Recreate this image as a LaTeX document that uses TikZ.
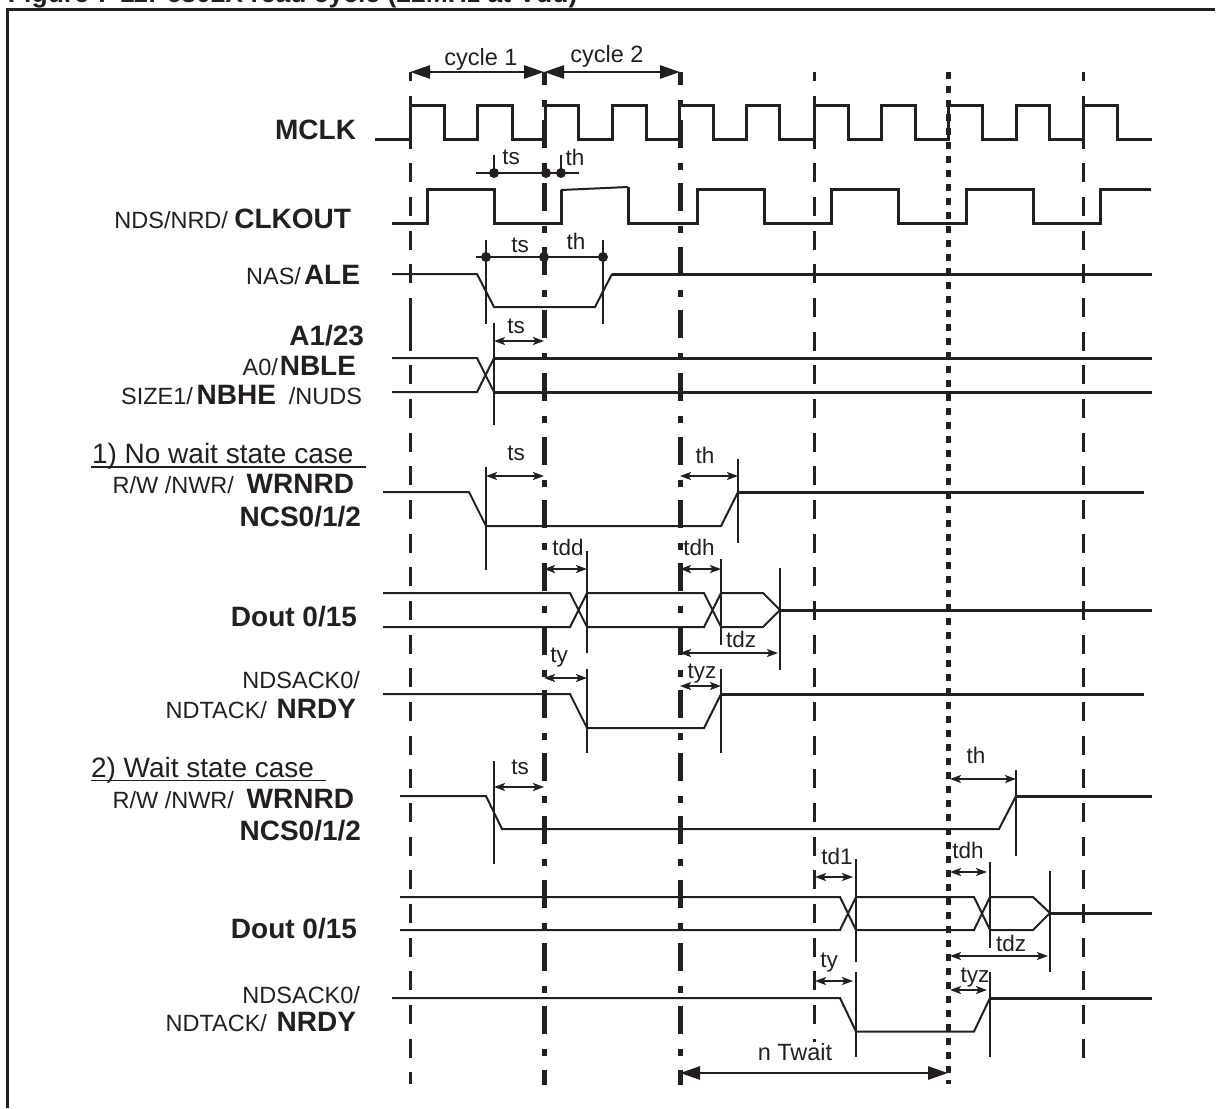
\documentclass[tikz,border=0pt]{standalone}
\usepackage{fontspec}
\setmainfont{Liberation Sans}
\usetikzlibrary{arrows.meta}
\definecolor{ink}{HTML}{231F20}
\newcommand{\rg}{\fontsize{23.5}{23.5}\selectfont}
\newcommand{\bd}{\fontsize{28}{28}\selectfont\bfseries}
\newcommand{\hd}{\fontsize{28}{28}\selectfont}
\newcommand{\tm}{\fontsize{22.5}{22.5}\selectfont}
\newcommand{\cy}{\fontsize{23.5}{23.5}\selectfont}
\tikzset{
  every node/.style={inner sep=0pt,outer sep=0pt,text=ink},
  frameline/.style={line width=3pt,draw=ink},
  dashline/.style={line width=3pt,draw=ink,dash pattern=on 19pt off 14.67pt,dash phase=9.7pt},
  dotline/.style={line width=5pt,draw=ink,dash pattern=on 7pt off 7pt},
  chainline/.style={line width=5pt,draw=ink,dash pattern=on 28pt off 15pt on 7pt off 13.3pt,dash phase=15.2pt},
  thinsig/.style={line width=2pt,draw=ink,line join=miter},
  thicksig/.style={line width=3pt,draw=ink,line join=miter},
  clocksig/.style={line width=3pt,draw=ink,line join=miter},
  tickline/.style={line width=1.7pt,draw=ink},
  rule/.style={line width=1.5pt,draw=ink},
  dimarrow/.style={line width=1.6pt,draw=ink,{Stealth[length=11pt,width=8pt,inset=2.5pt]}-{Stealth[length=11pt,width=8pt,inset=2.5pt]}},
  bigarrow/.style={line width=2.6pt,draw=ink,{Triangle[length=20pt,width=13pt]}-{Triangle[length=20pt,width=13pt]}},
  dot/.style={fill=ink,circle,minimum size=10pt}
}
\begin{document}
\begin{tikzpicture}[x=1pt,y=-1pt]
\useasboundingbox (0,0) rectangle (1225,1108);
% title and frame
\node[anchor=base west] (title) at (8,3) {\fontsize{26.5}{26.5}\selectfont\bfseries Figure 7-11: 6802X read cycle (22MHz at Vdd)};
\draw[frameline] (7.5,1108) -- (7.5,10) -- (1215,10);
% vertical reference lines
\draw[dashline] (410,72) -- (410,1084);
\draw[line width=3pt,draw=ink] (410,316) -- (410,335);
\draw[chainline] (544,72) -- (544,1085);
\draw[chainline] (680,72) -- (680,1085);
\draw[dashline] (814.5,72) -- (814.5,1042);
\draw[dotline] (948,72) -- (948,1084);
\draw[dashline] (1083,72) -- (1083,1067);
% cycle arrows
\coordinate (c1) at (410,72); \coordinate (c2) at (544,72); \coordinate (c3) at (680,72);
\draw[bigarrow] (c1) -- (c2);
\draw[bigarrow] (c2) -- (c3);
\node[anchor=base] (cyc1) at (481,65) {\cy cycle 1};
\node[anchor=base] (cyc2) at (607,63) {\cy cycle 2};
% MCLK
\draw[clocksig] (375,139) -- (410,139) -- (410,105) -- (444,105) -- (444,139) -- (477,139) -- (477,105) -- (512,105) -- (512,139) -- (545,139) -- (545,105) -- (578,105) -- (578,139) -- (612,139) -- (612,105) -- (646,105) -- (646,139) -- (679,139) -- (679,105) -- (713,105) -- (713,139) -- (746,139) -- (746,105) -- (779,105) -- (779,139) -- (814,139) -- (814,105) -- (848,105) -- (848,139) -- (881,139) -- (881,105) -- (915,105) -- (915,139) -- (948,139) -- (948,105) -- (982,105) -- (982,139) -- (1016,139) -- (1016,105) -- (1049,105) -- (1049,139) -- (1083,139) -- (1083,105) -- (1117,105) -- (1117,139) -- (1152,139);
% CLKOUT
\draw[clocksig] (392,223) -- (427,223) -- (427,189) -- (494,189) -- (494,223) -- (561,223) -- (561,190);
\draw[thinsig] (561,190) -- (628,187);
\draw[clocksig] (628,187) -- (628,223) -- (697,223) -- (697,189) -- (764,189) -- (764,223) -- (831,223) -- (831,189) -- (898,189) -- (898,223) -- (966,223) -- (966,189) -- (1033,189) -- (1033,223) -- (1100,223) -- (1100,189) -- (1151,189);
\draw[rule] (476,173) -- (579,173);
\draw[tickline] (494,155) -- (494,173);
\draw[tickline] (561,155) -- (561,173);
\node[dot] (d1) at (494,173) {};
\node[dot] (d2) at (546,173) {};
\node[dot] (d3) at (561,173) {};
\node[anchor=base] (ts1) at (511,164) {\tm ts};
\node[anchor=base] (th1) at (575,165) {\tm th};
% ALE
\draw[thinsig] (392,274) -- (477,274) -- (494,307) -- (595,307) -- (612,274);
\draw[thicksig] (612,274) -- (1152,274);
\draw[rule] (476,257) -- (603,257);
\draw[tickline] (486,240) -- (486,324);
\draw[tickline] (603,240) -- (603,324);
\node[dot] (d4) at (486,257) {};
\node[dot] (d5) at (544,257) {};
\node[dot] (d6) at (603,257) {};
\node[anchor=base] (ts2) at (520,252) {\tm ts};
\node[anchor=base] (th2) at (576,249) {\tm th};
% address
\draw[thinsig] (392,358) -- (477,358) -- (494,392);
\draw[thinsig] (392,392) -- (477,392) -- (494,358);
\draw[thicksig] (494,358) -- (1152,358);
\draw[thicksig] (494,392) -- (1152,392);
\draw[tickline] (494,323) -- (494,425);
\coordinate (a1) at (494,341); \coordinate (a2) at (544,341);
\draw[dimarrow] (a1) -- (a2);
\node[anchor=base] (ts3) at (516,333) {\tm ts};
% case 1 WRNRD
\draw[thinsig] (383,492) -- (469,492) -- (486,526) -- (721,526) -- (738,492);
\draw[thicksig] (738,492) -- (1144,492);
\draw[tickline] (486,467) -- (486,570);
\draw[tickline] (738,459) -- (738,543);
\coordinate (b1) at (486,476); \coordinate (b2) at (544,476); \coordinate (b3) at (680,476); \coordinate (b4) at (738,476);
\draw[dimarrow] (b1) -- (b2);
\draw[dimarrow] (b3) -- (b4);
\node[anchor=base] (ts4) at (516,460) {\tm ts};
\node[anchor=base] (th4) at (705,463) {\tm th};
% case 1 Dout
\draw[thinsig] (383,593) -- (570,593) -- (587,627) -- (704,627) -- (721,593) -- (763,593) -- (780,610) -- (763,627) -- (721,627) -- (704,593) -- (587,593) -- (570,627) -- (383,627);
\draw[thicksig] (780,610) -- (1152,610);
\draw[tickline] (587,551) -- (587,653);
\draw[tickline] (721,559) -- (721,645);
\draw[tickline] (780,568) -- (780,670);
\coordinate (e1) at (544,569); \coordinate (e2) at (587,569); \coordinate (e3) at (680,569); \coordinate (e4) at (721,569); \coordinate (e5) at (680,653); \coordinate (e6) at (778,653);
\draw[dimarrow] (e1) -- (e2);
\draw[dimarrow] (e3) -- (e4);
\draw[dimarrow] (e5) -- (e6);
\node[anchor=base] (tdd1) at (568,555) {\tm tdd};
\node[anchor=base] (tdh1) at (699,555) {\tm tdh};
\node[anchor=base] (tdz1) at (741,647) {\tm tdz};
% case 1 NRDY
\draw[thinsig] (383,694) -- (570,694) -- (587,728) -- (704,728) -- (721,694);
\draw[thicksig] (721,694) -- (1144,694);
\draw[tickline] (587,669) -- (587,753);
\draw[tickline] (721,669) -- (721,753);
\coordinate (f1) at (544,678); \coordinate (f2) at (587,678); \coordinate (f3) at (680,686); \coordinate (f4) at (721,686);
\draw[dimarrow] (f1) -- (f2);
\draw[dimarrow] (f3) -- (f4);
\node[anchor=base] (ty1) at (559,662) {\tm ty};
\node[anchor=base] (tyz1) at (702,678) {\tm tyz};
% case 2 WRNRD
\draw[thinsig] (400,796) -- (486,796) -- (502,829) -- (999,829) -- (1016,796);
\draw[thicksig] (1016,796) -- (1152,796);
\draw[tickline] (494,761) -- (494,864);
\draw[tickline] (1016,770) -- (1016,856);
\coordinate (g1) at (494,787); \coordinate (g2) at (544,787); \coordinate (g3) at (950,779); \coordinate (g4) at (1016,779);
\draw[dimarrow] (g1) -- (g2);
\draw[dimarrow] (g3) -- (g4);
\node[anchor=base] (ts5) at (520,774) {\tm ts};
\node[anchor=base] (th5) at (976,763) {\tm th};
% case 2 Dout
\draw[thinsig] (400,897) -- (840,897) -- (856,930) -- (974,930) -- (990,897) -- (1033,897) -- (1050,913) -- (1033,930) -- (990,930) -- (974,897) -- (856,897) -- (840,930) -- (400,930);
\draw[thicksig] (1050,913) -- (1152,913);
\draw[tickline] (856,859) -- (856,962);
\draw[tickline] (990,862) -- (990,948);
\draw[tickline] (1050,871) -- (1050,972);
\coordinate (h1) at (815,877); \coordinate (h2) at (853,877); \coordinate (h3) at (950,872); \coordinate (h4) at (987,872); \coordinate (h5) at (950,956); \coordinate (h6) at (1048,956);
\draw[dimarrow] (h1) -- (h2);
\draw[dimarrow] (h3) -- (h4);
\draw[dimarrow] (h5) -- (h6);
\node[anchor=base] (td1) at (837,864) {\tm td1};
\node[anchor=base] (tdh2) at (968,858) {\tm tdh};
\node[anchor=base] (tdz2) at (1011,951) {\tm tdz};
% case 2 NRDY
\draw[thinsig] (392,998) -- (840,998) -- (856,1031.5) -- (974,1031.5) -- (990,998);
\draw[thicksig] (990,998) -- (1152,998);
\draw[tickline] (856,972) -- (856,1057);
\draw[tickline] (990,972) -- (990,1057);
\coordinate (k1) at (815,981); \coordinate (k2) at (853,981); \coordinate (k3) at (950,990); \coordinate (k4) at (987,990);
\draw[dimarrow] (k1) -- (k2);
\draw[dimarrow] (k3) -- (k4);
\node[anchor=base] (ty2) at (829,967) {\tm ty};
\node[anchor=base] (tyz2) at (975,982) {\tm tyz};
% n Twait
\coordinate (w1) at (680,1073); \coordinate (w2) at (948,1073);
\draw[bigarrow] (w1) -- (w2);
\node[anchor=base] (twait) at (795,1060) {\cy n Twait};
% signal labels
\node[anchor=base east] (l1) at (356,139) {\bd MCLK};
\node[anchor=base east] (l2a) at (228,228) {\rg NDS/NRD/};
\node[anchor=base east] (l2b) at (351,228) {\bd CLKOUT};
\node[anchor=base east] (l3a) at (301,284) {\rg NAS/};
\node[anchor=base east] (l3b) at (360,284) {\bd ALE};
\node[anchor=base east] (l4) at (364,345) {\bd A1/23};
\node[anchor=base east] (l5a) at (278,375) {\rg A0/};
\node[anchor=base east] (l5b) at (356,375) {\bd NBLE};
\node[anchor=base east] (l6a) at (193,404) {\rg SIZE1/};
\node[anchor=base east] (l6b) at (276,404) {\bd NBHE};
\node[anchor=base east] (l6c) at (362,404) {\rg /NUDS};
\node[anchor=base west] (h1t) at (92,463) {\hd 1) No wait state case};
\draw[rule] (91,467) -- (366,467);
\node[anchor=base east] (l7a) at (234,493) {\rg R/W /NWR/};
\node[anchor=base east] (l7b) at (354,493) {\bd WRNRD};
\node[anchor=base east] (l8) at (361,526) {\bd NCS0/1/2};
\node[anchor=base east] (l9) at (357,626) {\bd Dout 0/15};
\node[anchor=base east] (l10) at (360,688) {\rg NDSACK0/};
\node[anchor=base east] (l11a) at (267,718) {\rg NDTACK/};
\node[anchor=base east] (l11b) at (356,718) {\bd NRDY};
\node[anchor=base west] (h2t) at (91,777) {\hd 2) Wait state case};
\draw[rule] (91,780.5) -- (326,780.5);
\node[anchor=base east] (l12a) at (234,808) {\rg R/W /NWR/};
\node[anchor=base east] (l12b) at (354,808) {\bd WRNRD};
\node[anchor=base east] (l13) at (361,840) {\bd NCS0/1/2};
\node[anchor=base east] (l14) at (357,938) {\bd Dout 0/15};
\node[anchor=base east] (l15) at (360,1003) {\rg NDSACK0/};
\node[anchor=base east] (l16a) at (267,1031) {\rg NDTACK/};
\node[anchor=base east] (l16b) at (356,1031) {\bd NRDY};
\end{tikzpicture}
\end{document}
